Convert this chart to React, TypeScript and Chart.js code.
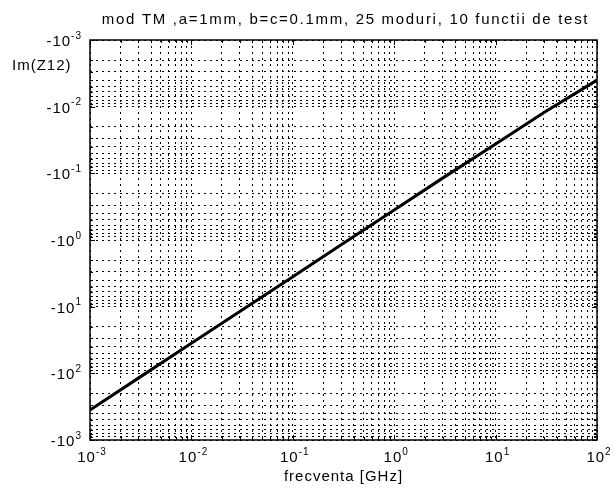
import { useEffect, useRef } from "react";
import { Chart, registerables } from "chart.js";

Chart.register(...registerables);

// Frequency sweep (GHz) and the imaginary part of Z12 at those frequencies
const freqGHz = [0.001, 0.003, 0.01, 0.03, 0.1, 0.3, 1, 3, 10, 30, 100];
const imZ12 = [-355, -118, -35.5, -11.8, -3.55, -1.18, -0.355, -0.118, -0.0362, -0.0122, -0.004];

// Decade exponents that carry tick labels
const xDecades = [-3, -2, -1, 0, 1, 2];
const yDecades = [-3, -2, -1, 0, 1, 2, 3];

const titleText = "mod TM ,a=1mm, b=c=0.1mm, 25 moduri, 10 functii de test";
const xTitle = "frecventa [GHz]";
const yTitle = "Im(Z12)";

const FONT = "'Liberation Sans', Arial, sans-serif";

// 1..9 x 10^e for every decade between the two exponents
function logTicks(lo: number, hi: number) {
  const out: { value: number }[] = [];
  for (let e = lo; e < hi; e++) {
    for (let m = 1; m <= 9; m++) out.push({ value: parseFloat((m * Math.pow(10, e)).toPrecision(3)) });
  }
  out.push({ value: Math.pow(10, hi) });
  return out;
}

function isDecade(v: number) {
  const l = Math.log10(v);
  return Math.abs(l - Math.round(l)) < 1e-6;
}

// Writes base + raised exponent; align: "right" or "center" about x
function drawPower(ctx: CanvasRenderingContext2D, base: string, exp: string, x: number, y: number, align: "right" | "center") {
  ctx.save();
  ctx.letterSpacing = "1px";
  ctx.font = `15px ${FONT}`;
  const wb = ctx.measureText(base).width;
  ctx.font = `10px ${FONT}`;
  const we = ctx.measureText(exp).width;
  const total = wb + we;
  const x0 = align === "right" ? x - total : x - total / 2;
  ctx.textAlign = "left";
  ctx.textBaseline = "middle";
  ctx.font = `15px ${FONT}`;
  ctx.fillText(base, x0, y);
  ctx.font = `10px ${FONT}`;
  ctx.fillText(exp, x0 + wb, y - 6);
  ctx.restore();
}

const decorations = {
  id: "matlabFrame",
  afterDraw(chart: Chart) {
    const { ctx, chartArea } = chart;
    const xs = chart.scales.x;
    const ys = chart.scales.y;
    const { left, right, top, bottom } = chartArea;
    ctx.save();
    ctx.strokeStyle = "#000";
    ctx.fillStyle = "#000";

    // inward tick marks on all four sides
    ctx.lineWidth = 1;
    ctx.beginPath();
    for (const t of xs.ticks) {
      const px = Math.round(xs.getPixelForValue(t.value)) + 0.5;
      const len = isDecade(t.value) ? 5 : 3;
      ctx.moveTo(px, bottom);
      ctx.lineTo(px, bottom - len);
      ctx.moveTo(px, top);
      ctx.lineTo(px, top + len);
    }
    for (const t of ys.ticks) {
      const py = Math.round(ys.getPixelForValue(t.value)) + 0.5;
      const len = isDecade(t.value) ? 5 : 3;
      ctx.moveTo(left, py);
      ctx.lineTo(left + len, py);
      ctx.moveTo(right, py);
      ctx.lineTo(right - len, py);
    }
    ctx.stroke();

    // axes box
    ctx.lineWidth = 1.5;
    ctx.strokeRect(left, top, right - left, bottom - top);

    // tick labels
    for (const e of yDecades) {
      const py = ys.getPixelForValue(Math.pow(10, e));
      drawPower(ctx, "-10", String(e), left - 8, py + 2, "right");
    }
    for (const e of xDecades) {
      const px = xs.getPixelForValue(Math.pow(10, e));
      drawPower(ctx, "10", String(e), px + 2, bottom + 18, "center");
    }

    // titles
    ctx.textBaseline = "middle";
    ctx.textAlign = "center";
    ctx.font = `15px ${FONT}`;
    ctx.letterSpacing = "1.7px";
    ctx.fillText(titleText, (left + right) / 2 + 2, 20);
    ctx.letterSpacing = "1px";
    ctx.fillText(xTitle, (left + right) / 2, 477);
    ctx.textAlign = "left";
    ctx.fillText(yTitle, 12, 66);
    ctx.restore();
  },
};

export default function App() {
  const canvasRef = useRef<HTMLCanvasElement | null>(null);

  useEffect(() => {
    document.body.style.margin = "0";
    const canvas = canvasRef.current;
    if (!canvas) return;
    const dash = [2, 4];
    const chart = new Chart(canvas, {
      type: "line",
      data: {
        datasets: [
          {
            data: freqGHz.map((f, i) => ({ x: f, y: -imZ12[i] })),
            borderColor: "#000",
            borderWidth: 3,
            pointRadius: 0,
            tension: 0,
            fill: false,
          },
        ],
      },
      options: {
        animation: false,
        responsive: false,
        devicePixelRatio: 1,
        layout: { padding: { top: 40, right: 19, left: 0, bottom: 0 } },
        plugins: { legend: { display: false }, title: { display: false }, tooltip: { enabled: false } },
        scales: {
          x: {
            type: "logarithmic",
            min: 1e-3,
            max: 1e2,
            afterBuildTicks: (s: any) => {
              s.ticks = logTicks(-3, 2);
            },
            afterFit: (s: any) => {
              s.height = 55;
            },
            ticks: { display: false },
            grid: { color: "#000", lineWidth: 1, drawTicks: false },
            border: { display: false, dash },
          },
          y: {
            type: "logarithmic",
            reverse: true,
            min: 1e-3,
            max: 1e3,
            afterBuildTicks: (s: any) => {
              s.ticks = logTicks(-3, 3);
            },
            afterFit: (s: any) => {
              s.width = 90;
            },
            ticks: { display: false },
            grid: { color: "#000", lineWidth: 1, drawTicks: false },
            border: { display: false, dash },
          },
        },
      },
      plugins: [decorations],
    });
    return () => chart.destroy();
  }, []);

  return <canvas ref={canvasRef} width={616} height={495} style={{ display: "block" }} />;
}
